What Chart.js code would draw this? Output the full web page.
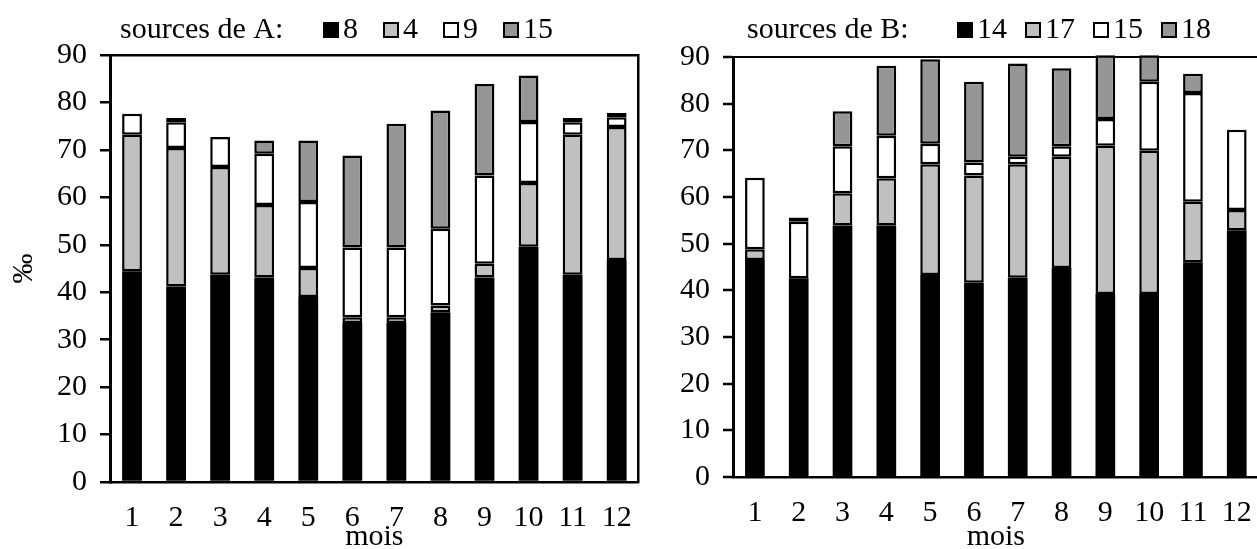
<!DOCTYPE html>
<html>
<head>
<meta charset="utf-8">
<script src="https://cdn.jsdelivr.net/npm/chart.js@4"></script>
<style>
  html, body { margin: 0; padding: 0; background: #fff; overflow: hidden; width: 1257px; height: 549px; }
  #chartA { position: absolute; left: 0; top: 0; }
  #chartB { position: absolute; left: 650px; top: 0; }
</style>
</head>
<body>
<canvas id="chartA" width="650" height="549"></canvas>
<canvas id="chartB" width="620" height="549"></canvas>
<script>
const months = ['1', '2', '3', '4', '5', '6', '7', '8', '9', '10', '11', '12'];
const yTicks = [0, 10, 20, 30, 40, 50, 60, 70, 80, 90];

// sources de A
const labelsA = ['8', '4', '9', '15'];
const a8  = [44.4, 41.2, 43.7, 43.1, 39.0, 33.5, 33.5, 35.8, 43.1, 49.6, 43.7, 46.8];
const a4  = [28.8, 29.2, 22.7, 15.3, 6.1, 1.2, 1.2, 1.4, 2.9, 13.4, 29.5, 28.0];
const a9  = [4.4, 5.4, 6.3, 10.8, 13.9, 14.7, 14.7, 16.2, 18.6, 12.9, 2.6, 2.1];
const a15 = [0, 0.9, 0, 2.8, 13.0, 19.4, 26.1, 24.9, 19.3, 9.8, 0.9, 0.9];

// sources de B
const labelsB = ['14', '17', '15', '18'];
const b14 = [46.5, 42.6, 53.9, 53.9, 43.3, 41.6, 42.7, 44.8, 39.2, 39.2, 46.0, 52.9];
const b17 = [2.3, 0, 6.9, 10.1, 23.7, 23.0, 24.3, 23.8, 31.8, 30.7, 13.0, 4.3];
const b15 = [15.3, 12.1, 10.1, 9.1, 4.4, 2.8, 1.6, 2.3, 5.7, 14.8, 23.3, 17.2];
const b18 = [0, 0.9, 7.5, 15.0, 18.1, 17.3, 20.0, 16.7, 13.7, 5.7, 4.1, 0];

const fills = ['#000000', '#c0c0c0', '#ffffff', '#969696'];
const serif = '"Liberation Serif", "Times New Roman", serif';

Chart.defaults.font.family = serif;
Chart.defaults.font.size = 30;
Chart.defaults.color = '#000';

// legend line: "sources de X:" followed by a small box per series
const sourceLegend = {
    id: 'sourceLegend',
    afterDraw(chart, args, opts) {
        const ctx = chart.ctx;
        ctx.save();
        ctx.font = '30px ' + serif;
        ctx.textBaseline = 'alphabetic';
        ctx.fillStyle = '#000';
        ctx.fillText(opts.title, opts.titleX, opts.baseline);
        let x = opts.itemsX;
        chart.data.datasets.forEach(ds => {
            ctx.fillStyle = ds.backgroundColor;
            ctx.fillRect(x, opts.baseline - 16, 16, 16);
            ctx.lineWidth = 2;
            ctx.strokeStyle = '#000';
            ctx.strokeRect(x + 1, opts.baseline - 15, 14, 14);
            ctx.fillStyle = '#000';
            ctx.fillText(ds.label, x + 20, opts.baseline);
            x += 20 + ctx.measureText(ds.label).width + opts.gap;
        });
        ctx.restore();
    }
};

function makeDatasets(names, series) {
    return series.map((values, i) => ({
        label: names[i],
        data: values,
        backgroundColor: fills[i],
        borderColor: '#000',
        // black segments need no outline (avoids a seam inside the fill)
        borderWidth: i === 0 ? 0 : 2.5,
        borderSkipped: false,
        categoryPercentage: 1,
        barPercentage: 0.45,
        clip: false
    }));
}

function makeChart(canvasId, names, series, cfg) {
    const scales = {
        x: {
            stacked: true,
            grid: { display: false, drawTicks: false },
            border: { display: true, color: '#000', width: 2.5 },
            ticks: { padding: 18, maxRotation: 0, autoSkip: false },
            title: { display: true, text: 'mois', padding: 0, font: { size: 30, lineHeight: 0.8 } },
            afterFit: s => { s.height = cfg.xHeight; }
        },
        y: {
            stacked: true,
            min: 0,
            max: 90,
            afterBuildTicks: s => { s.ticks = yTicks.map(v => ({ value: v })); },
            ticks: { padding: 13 },
            grid: {
                color: c => (c.tick && c.tick.value === 90) ? '#000' : 'rgba(0,0,0,0)',
                lineWidth: cfg.topLine,
                tickColor: '#000',
                tickWidth: 2.5,
                tickLength: 10
            },
            border: { display: true, color: '#000', width: 3 },
            title: { display: cfg.yTitle !== '', text: cfg.yTitle, padding: { top: 6, bottom: 0 } },
            afterFit: s => { s.width = cfg.yWidth; }
        }
    };
    if (cfg.rightBorder) {
        scales.y2 = {
            position: 'right',
            min: 0,
            max: 90,
            ticks: { display: false },
            grid: { display: false },
            border: { display: true, color: '#000', width: 2.5 },
            afterFit: s => { s.width = 0; }
        };
    }
    return new Chart(document.getElementById(canvasId).getContext('2d'), {
        type: 'bar',
        data: { labels: months, datasets: makeDatasets(names, series) },
        options: {
            responsive: false,
            animation: false,
            layout: { padding: { top: cfg.top, right: cfg.right, left: 0, bottom: 0 } },
            plugins: {
                legend: { display: false },
                tooltip: { enabled: false },
                sourceLegend: cfg.legend
            },
            scales: scales
        },
        plugins: [sourceLegend]
    });
}

makeChart('chartA', labelsA, [a8, a4, a9, a15], {
    top: 55, right: 8, xHeight: 67, yWidth: 110, yTitle: '‰', topLine: 2.5, rightBorder: true,
    legend: { title: 'sources de A:', titleX: 120, itemsX: 323, gap: 25, baseline: 38 }
});

makeChart('chartB', labelsB, [b14, b17, b15, b18], {
    top: 57, right: 6, xHeight: 72, yWidth: 83, yTitle: '', topLine: 2, rightBorder: false,
    legend: { title: 'sources de B:', titleX: 97, itemsX: 307, gap: 18, baseline: 38 }
});
</script>
</body>
</html>
